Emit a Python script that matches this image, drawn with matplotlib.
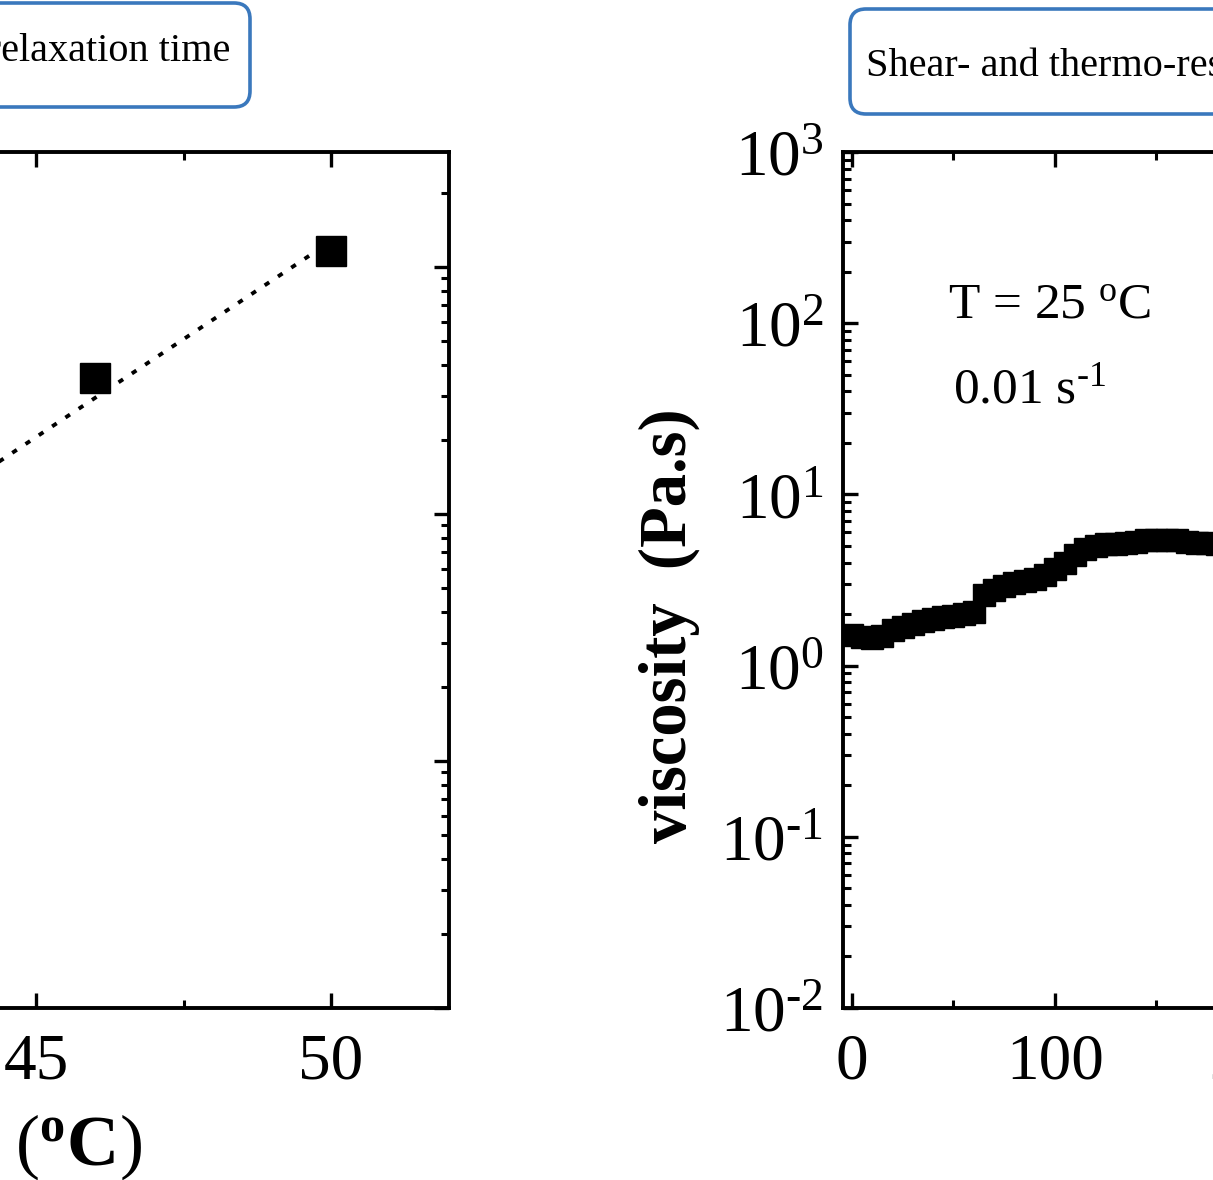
import numpy as np
import matplotlib

matplotlib.use("Agg")
import matplotlib.pyplot as plt
from matplotlib.patches import FancyBboxPatch
from matplotlib.ticker import LogLocator, FuncFormatter, MultipleLocator, NullFormatter
from matplotlib.transforms import IdentityTransform

plt.rcParams["font.family"] = ["Liberation Serif", "DejaVu Serif"]
plt.rcParams["mathtext.fontset"] = "custom"
plt.rcParams["mathtext.rm"] = "Liberation Serif"
plt.rcParams["mathtext.it"] = "Liberation Serif:italic"
plt.rcParams["mathtext.bf"] = "Liberation Serif:bold"

# left panel: relaxation time vs temperature
temp_c = [46, 50]
relax_time = [35.6, 116]
fit_temp = [40, 50]
fit_relax = [3.3, 127]

# right panel: viscosity vs time at 25 C, 0.01 1/s
time_s = [0, 5, 10, 15, 20, 25, 30, 35, 40, 45, 50, 55, 60, 65, 70, 75, 80, 85, 90,
          95, 100, 105, 110, 115, 120, 125, 130, 135, 140, 145, 150, 155, 160, 165,
          170, 175, 180]
viscosity = [1.50, 1.46, 1.44, 1.48, 1.62, 1.69, 1.76, 1.81, 1.86, 1.93, 1.96, 2.01,
             2.07, 2.60, 2.78, 2.90, 3.02, 3.14, 3.22, 3.40, 3.69, 4.00, 4.40, 4.83,
             5.00, 5.10, 5.10, 5.17, 5.25, 5.38, 5.45, 5.45, 5.45, 5.30, 5.17, 5.17,
             5.10]

W, H = 1213, 1180
BLUE = "#3a78bd"


def log_label(val, pos):
    exp = int(round(np.log10(val)))
    if exp < 0:
        return r"$10^{\text{-}%d}$" % -exp
    return r"$10^{%d}$" % exp


def style_axis(ax):
    for side in ax.spines.values():
        side.set_linewidth(2.8)
    ax.tick_params(which="both", direction="in", top=True, right=True, left=True, bottom=True)
    ax.tick_params(which="major", length=11, width=2.4, labelsize=47)
    ax.tick_params(which="minor", length=5.5, width=2.2)


fig = plt.figure(figsize=(W / 100, H / 100), dpi=100)

# ---- left panel (partly outside the figure)
ax1 = fig.add_axes([-377 / W, 172 / H, 826 / W, 856 / H])
ax1.plot(fit_temp, fit_relax, color="black", linestyle=(0, (1.4, 2.7)), linewidth=2.8)
ax1.plot(temp_c, relax_time, "s", color="black", markersize=22)
ax1.set_yscale("log")
ax1.set_xlim(38, 52)
ax1.set_ylim(0.1, 292)
ax1.xaxis.set_major_locator(MultipleLocator(5))
ax1.xaxis.set_minor_locator(MultipleLocator(2.5))
ax1.yaxis.set_major_locator(LogLocator(base=10))
ax1.yaxis.set_minor_locator(LogLocator(base=10, subs=np.arange(2, 10)))
ax1.yaxis.set_major_formatter(FuncFormatter(log_label))
ax1.yaxis.set_minor_formatter(NullFormatter())
style_axis(ax1)
ax1.tick_params(axis="x", pad=18)
ax1.set_xlabel(r"$\mathbf{Temperature}$ ($\mathbf{^{o}C}$)", fontsize=52,
               ha="right", va="baseline")
ax1.xaxis.set_label_coords((142 + 377) / 826, (1008 - 1165) / 856)

# ---- right panel (partly outside the figure)
ax2 = fig.add_axes([843 / W, 172 / H, 618 / W, 856 / H])
ax2.plot(time_s, viscosity, "s", color="black", markersize=15.5)
ax2.set_yscale("log")
ax2.set_xlim(-4.4, 300)
ax2.set_ylim(0.01, 1000)
ax2.xaxis.set_major_locator(MultipleLocator(100))
ax2.xaxis.set_minor_locator(MultipleLocator(50))
ax2.yaxis.set_major_locator(LogLocator(base=10))
ax2.yaxis.set_minor_locator(LogLocator(base=10, subs=np.arange(2, 10)))
ax2.yaxis.set_major_formatter(FuncFormatter(log_label))
ax2.yaxis.set_minor_formatter(NullFormatter())
style_axis(ax2)
ax2.tick_params(axis="x", pad=18)
ax2.tick_params(axis="y", pad=14)
ax2.set_ylabel("viscosity  (Pa.s)", fontsize=48, fontweight="bold", va="center")
ax2.yaxis.set_label_coords((669 - 843) / 618, (1008 - 626) / 856)
ax2.text((948 - 843) / 618, (1008 - 318) / 856, r"T = 25 $^{\mathrm{o}}$C",
         transform=ax2.transAxes, fontsize=37, va="baseline", ha="left")
ax2.text((953 - 843) / 618, (1008 - 403) / 856, r"0.01 s$^{\text{-}1}$",
         transform=ax2.transAxes, fontsize=37, va="baseline", ha="left")

# ---- title boxes at the top
for x0, y_top, y_bot, width in [(-120, 3, 107, 370), (850, 9, 114, 520)]:
    box = FancyBboxPatch((x0, H - y_bot), width, y_bot - y_top,
                         boxstyle="round,pad=0,rounding_size=16",
                         transform=IdentityTransform(), facecolor="white",
                         edgecolor=BLUE, linewidth=2.6)
    fig.patches.append(box)

fig.text(230 / W, (H - 61) / H, "Temperature-dependent relaxation time", fontsize=29,
         ha="right", va="baseline")
fig.text(866 / W, (H - 76) / H, "Shear- and thermo-responsive viscosity", fontsize=29,
         ha="left", va="baseline")

fig.savefig("out.png", dpi=100)
